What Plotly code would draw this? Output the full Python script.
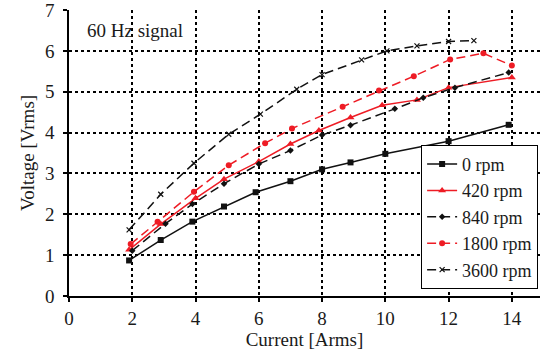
import plotly.graph_objects as go

# Data
x_0 = [1.9, 2.9, 3.9, 4.9, 5.9, 7.0, 8.0, 8.9, 10.0, 12.0, 13.9]
y_0 = [0.87, 1.37, 1.82, 2.19, 2.54, 2.81, 3.10, 3.27, 3.48, 3.79, 4.19]

x_420 = [1.9, 2.9, 4.0, 4.9, 6.0, 7.0, 7.9, 8.9, 9.9, 11.0, 12.0, 14.0]
y_420 = [1.13, 1.76, 2.39, 2.86, 3.29, 3.72, 4.05, 4.37, 4.67, 4.80, 5.10, 5.35]

x_840 = [2.0, 3.05, 3.9, 4.9, 6.0, 7.0, 8.0, 8.9, 10.3, 11.2, 12.2, 13.9]
y_840 = [1.11, 1.77, 2.25, 2.75, 3.23, 3.56, 3.94, 4.18, 4.58, 4.85, 5.10, 5.47]

x_1800 = [1.95, 2.8, 3.95, 5.05, 6.2, 7.05, 8.65, 9.8, 10.9, 12.05, 13.1, 14.0]
y_1800 = [1.27, 1.82, 2.55, 3.20, 3.74, 4.10, 4.63, 5.03, 5.38, 5.79, 5.94, 5.64]

x_3600 = [1.9, 2.9, 3.95, 5.05, 6.05, 7.2, 8.0, 9.25, 10.05, 11.0, 12.0, 12.8]
y_3600 = [1.62, 2.49, 3.25, 3.96, 4.45, 5.06, 5.42, 5.78, 6.00, 6.12, 6.23, 6.25]

names = ["0 rpm", "420 rpm", "840 rpm", "1800 rpm", "3600 rpm"]
x_ticks = [0, 2, 4, 6, 8, 10, 12, 14]
y_ticks = [0, 1, 2, 3, 4, 5, 6, 7]

RED = "#ee1c25"
BLACK = "#111111"
DASH = "9px,5px"
FONT = "Liberation Serif"
TXT = "#1a1a1a"
FS = 19

fig = go.Figure()
fig.add_trace(go.Scatter(x=x_0, y=y_0, name=names[0], mode="lines+markers",
                         line=dict(color=BLACK, width=1.5),
                         marker=dict(symbol="square", size=6, color=BLACK)))
fig.add_trace(go.Scatter(x=x_420, y=y_420, name=names[1], mode="lines+markers",
                         line=dict(color=RED, width=1.5),
                         marker=dict(symbol="triangle-up", size=7, color=RED)))
fig.add_trace(go.Scatter(x=x_840, y=y_840, name=names[2], mode="lines+markers",
                         line=dict(color=BLACK, width=1.5, dash=DASH),
                         marker=dict(symbol="diamond", size=5, color=BLACK)))
fig.add_trace(go.Scatter(x=x_1800, y=y_1800, name=names[3], mode="lines+markers",
                         line=dict(color=RED, width=1.5, dash=DASH),
                         marker=dict(symbol="circle", size=6, color=RED)))
fig.add_trace(go.Scatter(x=x_3600, y=y_3600, name=names[4], mode="lines+markers",
                         line=dict(color=BLACK, width=1.5, dash=DASH),
                         marker=dict(symbol="x-thin", size=5, color=BLACK,
                                     line=dict(width=1.2, color=BLACK))))

fig.add_annotation(x=0.034, y=0.927, xref="paper", yref="paper", xanchor="left", yanchor="middle",
                   text="60 Hz signal", showarrow=False,
                   font=dict(family=FONT, size=FS, color=TXT))

axis_common = dict(showgrid=True, gridcolor="black", griddash="dot", gridwidth=1.5,
                   showline=True, linecolor="black", linewidth=1.5,
                   ticks="outside", ticklen=4, tickcolor="black", tickwidth=1.5,
                   zeroline=False, automargin=False, ticklabeloverflow="allow",
                   tickfont=dict(family=FONT, size=FS, color=TXT),
                   title_font=dict(family=FONT, size=FS, color=TXT))

fig.update_xaxes(range=[0, 14.89], tickvals=x_ticks, title_text="Current [Arms]",
                 title_standoff=0, **axis_common)
fig.update_yaxes(range=[0, 7], tickvals=y_ticks, title_text="Voltage [Vrms]",
                 title_standoff=5, ticklabelstandoff=5, **axis_common)

fig.update_layout(
    width=540, height=363,
    font=dict(family=FONT, size=FS, color=TXT),
    margin=dict(l=69, r=0, t=10, b=67),
    plot_bgcolor="white", paper_bgcolor="white",
    legend=dict(x=0.996, y=0.025, xanchor="right", yanchor="bottom",
                bgcolor="white", bordercolor="black", borderwidth=1,
                font=dict(family=FONT, size=18, color=TXT),
                itemwidth=30, tracegroupgap=0),
    showlegend=True,
)

# remove the page's default body margin so the 540x363 figure fills the window
fig.write_html("out.html", config={"displayModeBar": False},
               post_script="document.body.style.margin='0';")
